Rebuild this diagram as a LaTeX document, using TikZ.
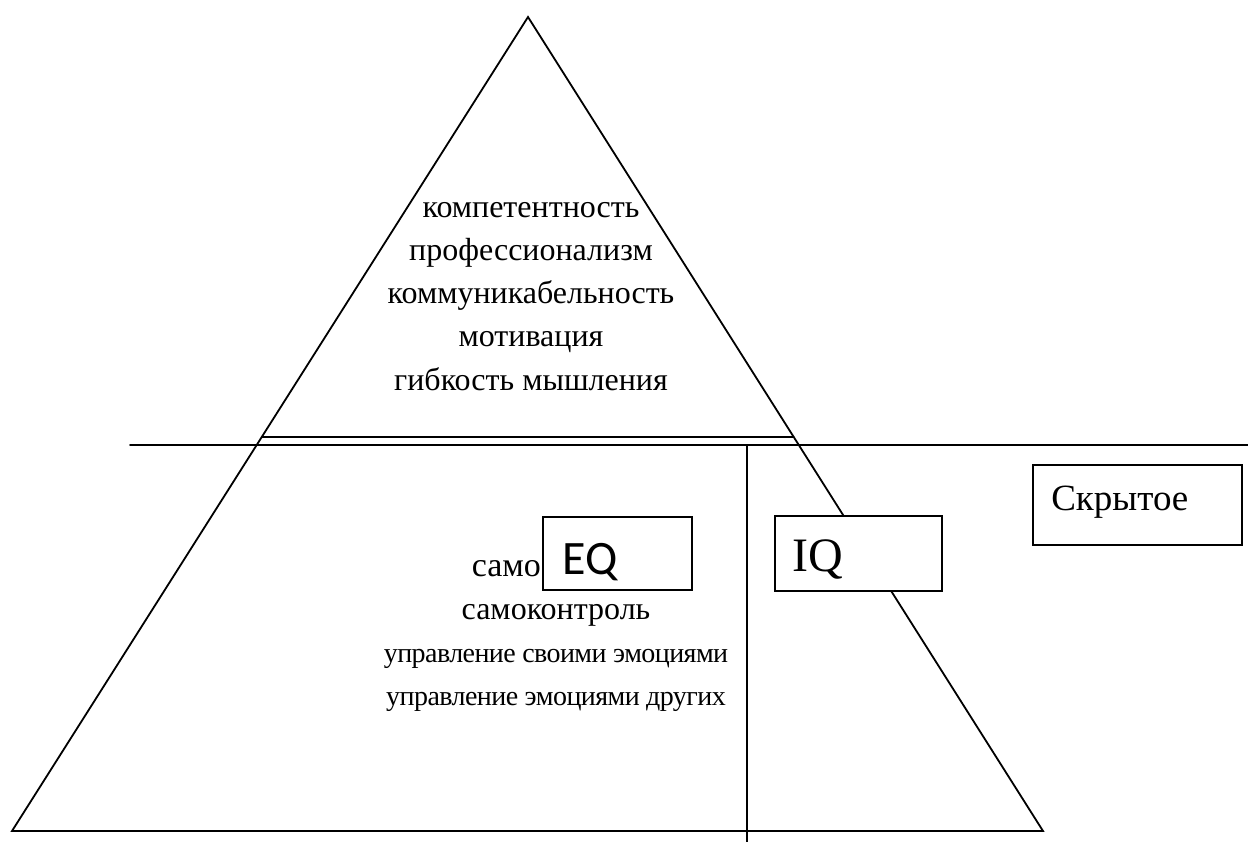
\documentclass[tikz,border=0pt]{standalone}
\usepackage{fontspec}
\setmainfont{Liberation Serif}
\newfontfamily\eqfont{Carlito}
\newfontfamily\tightfont[LetterSpace=-2]{Liberation Serif}
\usetikzlibrary{positioning,calc}

\begin{document}
\begin{tikzpicture}[
			x=1pt,y=-1pt,
			line/.style={draw,line width=1.8pt,line cap=round,line join=miter},
			box/.style={draw,line width=1.8pt,fill=white,inner sep=0pt},
			txt/.style={anchor=base,inner sep=0pt,font=\fontsize{32}{38}\selectfont},
			big/.style={anchor=base west,inner sep=0pt,font=\fontsize{48}{50}\selectfont},
		]
		\useasboundingbox (0,0) rectangle (1248,842);

		% pyramid
		\coordinate (top) at (528,17);
		\coordinate (bl) at (12,831);
		\coordinate (br) at (1043,831);
		\draw[line] (bl) -- (top) -- (br) -- cycle;

		% borders
		\coordinate (cutl) at ($(top)!0.516!(bl)$);
		\coordinate (cutr) at ($(top)!0.516!(br)$);
		\draw[line] (cutl) -- (cutr);
		\coordinate (hl) at (130,445);
		\coordinate (hr) at (1248,445);
		\draw[line] (hl) -- (hr);
		\coordinate (vt) at (747,445);
		\coordinate (vb) at (747,842);
		\draw[line] (vt) -- (vb);

		% visible qualities
		\node[txt] (k1) at (531,218) {компетентность};
		\node[txt] (k2) at ($(k1.base)+(0,43)$) {профессионализм};
		\node[txt] (k3) at ($(k2.base)+(0,43)$) {коммуникабельность};
		\node[txt] (k4) at ($(k3.base)+(0,43)$) {мотивация};
		\node[txt] (k5) at ($(k4.base)+(0,43)$) {гибкость мышления};

		% boxes
		\node[box,minimum width=149pt,minimum height=73pt] (eq) at (617.5,553.5) {};
		\node[box,minimum width=167pt,minimum height=75pt] (iq) at (858.5,553.5) {};
		\node[box,minimum width=209pt,minimum height=80pt] (hidden) at (1137.5,505) {};
		\node[big,font=\eqfont\fontsize{48}{50}\selectfont] (eqt) at ($(eq.west)+(20,20.5)$) {EQ};
		\node[big] (iqt) at ($(iq.west)+(18,17.5)$) {IQ};
		\node[txt,anchor=base west,font=\fontsize{37}{40}\selectfont] (hidt) at ($(hidden.west)+(19,5)$) {Скрытое};

		% hidden qualities
		\node[txt,anchor=base east,font=\fontsize{34}{38}\selectfont] (s1) at ($(eq.west)+(-1,22.5)$) {само};
		\node[txt] (s2) at (556,619) {самоконтроль};
		\node[txt,font=\tightfont\fontsize{28}{36}\selectfont] (s3) at ($(s2.base)+(0,43)$) {управление своими эмоциями};
		\node[txt,font=\tightfont\fontsize{28}{36}\selectfont] (s4) at ($(s3.base)+(0,43)$) {управление эмоциями других};
	\end{tikzpicture}
\end{document}
